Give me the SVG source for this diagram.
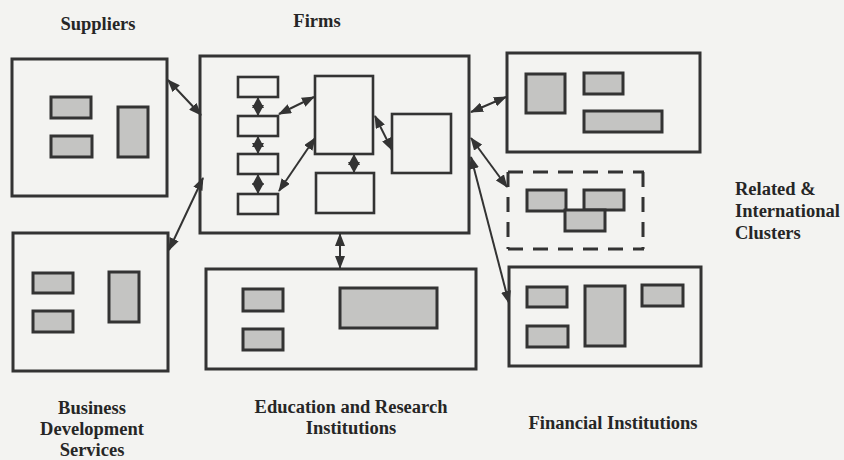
<svg xmlns="http://www.w3.org/2000/svg" width="844" height="460" viewBox="0 0 844 460">
<defs>
<style>
.box{fill:none;stroke:#333;stroke-width:3}
.inner{fill:none;stroke:#333;stroke-width:2.6}
.sh{fill:#c4c4c2;stroke:#333;stroke-width:3}
.dash{fill:none;stroke:#333;stroke-width:3;stroke-dasharray:15,10}
.lbl{font-family:"Liberation Serif","Times New Roman",serif;font-weight:bold;font-size:18.5px;fill:#262626}
.c{stroke:#333;stroke-width:2;fill:none;marker-start:url(#ah);marker-end:url(#ah)}
.s{stroke:#333;stroke-width:2;fill:none;marker-start:url(#hs);marker-end:url(#hs)}
</style>
<marker id="ah" markerUnits="userSpaceOnUse" markerWidth="13" markerHeight="10" refX="12" refY="5" orient="auto-start-reverse" viewBox="0 0 13 10">
<path d="M0,0 L13,5 L0,10 z" fill="#333"/>
</marker>
<marker id="hs" markerUnits="userSpaceOnUse" markerWidth="11" markerHeight="12" refX="10" refY="6" orient="auto-start-reverse" viewBox="0 0 11 12">
<path d="M0,0 L11,6 L0,12 z" fill="#333"/>
</marker>
</defs>
<rect x="0" y="0" width="844" height="460" fill="#f3f3f1"/>

<g id="suppliers">
<rect class="box" x="12" y="59" width="155" height="137"/>
<rect class="sh" x="51" y="97" width="40" height="21"/>
<rect class="sh" x="51" y="136" width="41" height="21"/>
<rect class="sh" x="118" y="107" width="30" height="50"/>
<text class="lbl" x="98" y="30" text-anchor="middle">Suppliers</text>
</g>

<g id="firms">
<rect class="box" x="200" y="56" width="269" height="177"/>
<rect class="inner" x="238" y="77" width="40" height="20"/>
<rect class="inner" x="238" y="116" width="40" height="20"/>
<rect class="inner" x="238" y="154" width="40" height="20"/>
<rect class="inner" x="238" y="194" width="40" height="20"/>
<rect class="inner" x="315" y="76" width="58" height="78"/>
<rect class="inner" x="316" y="173" width="58" height="40"/>
<rect class="inner" x="392" y="114" width="59" height="59"/>
<text class="lbl" x="317" y="27" text-anchor="middle">Firms</text>
</g>

<g id="related">
<rect class="box" x="507" y="53" width="193" height="99"/>
<rect class="sh" x="526" y="74" width="39" height="39"/>
<rect class="sh" x="584" y="73" width="39" height="21"/>
<rect class="sh" x="584" y="111" width="78" height="21"/>
<path class="dash" d="M508,172 H644"/>
<path class="dash" d="M508,249 H644"/>
<path class="dash" d="M508,172 V249"/>
<path class="dash" d="M643,172 V249"/>
<rect class="sh" x="527" y="190" width="39" height="21"/>
<rect class="sh" x="584" y="190" width="40" height="20"/>
<rect class="sh" x="565" y="210" width="40" height="21"/>
<text class="lbl" x="735" y="195">Related &amp;</text>
<text class="lbl" x="735" y="217">International</text>
<text class="lbl" x="735" y="239">Clusters</text>
</g>

<g id="bds">
<rect class="box" x="13" y="233" width="155" height="138"/>
<rect class="sh" x="33" y="273" width="40" height="20"/>
<rect class="sh" x="33" y="311" width="40" height="21"/>
<rect class="sh" x="109" y="272" width="30" height="50"/>
<text class="lbl" x="92" y="414" text-anchor="middle">Business</text>
<text class="lbl" x="92" y="435" text-anchor="middle">Development</text>
<text class="lbl" x="92" y="456" text-anchor="middle">Services</text>
</g>

<g id="education">
<rect class="box" x="206" y="269" width="270" height="100"/>
<rect class="sh" x="243" y="289" width="40" height="22"/>
<rect class="sh" x="243" y="329" width="40" height="21"/>
<rect class="sh" x="340" y="288" width="97" height="40"/>
<text class="lbl" x="351" y="413" text-anchor="middle">Education and Research</text>
<text class="lbl" x="351" y="434" text-anchor="middle">Institutions</text>
</g>

<g id="financial">
<rect class="box" x="509" y="267" width="192" height="99"/>
<rect class="sh" x="527" y="287" width="40" height="20"/>
<rect class="sh" x="527" y="326" width="41" height="21"/>
<rect class="sh" x="585" y="286" width="40" height="60"/>
<rect class="sh" x="642" y="285" width="41" height="21"/>
<text class="lbl" x="613" y="429" text-anchor="middle">Financial Institutions</text>
</g>

<g id="connectors">
<line class="c" x1="168" y1="80" x2="201" y2="115"/>
<line class="c" x1="169" y1="250" x2="203" y2="178"/>
<line class="c" x1="340" y1="234" x2="340" y2="268"/>
<line class="c" x1="471" y1="112" x2="506" y2="97"/>
<line class="c" x1="471" y1="138" x2="507" y2="187"/>
<line class="c" x1="471" y1="157" x2="509" y2="303"/>
<line class="c" x1="279" y1="114" x2="314" y2="97"/>
<line class="c" x1="279" y1="191" x2="315" y2="138"/>
<line class="c" x1="375" y1="116" x2="392" y2="150"/>
<line class="s" x1="258" y1="98" x2="258" y2="115"/>
<line class="s" x1="258" y1="137" x2="258" y2="153"/>
<line class="s" x1="258" y1="175" x2="258" y2="193"/>
<line class="s" x1="354" y1="155" x2="354" y2="172"/>
</g>
</svg>
